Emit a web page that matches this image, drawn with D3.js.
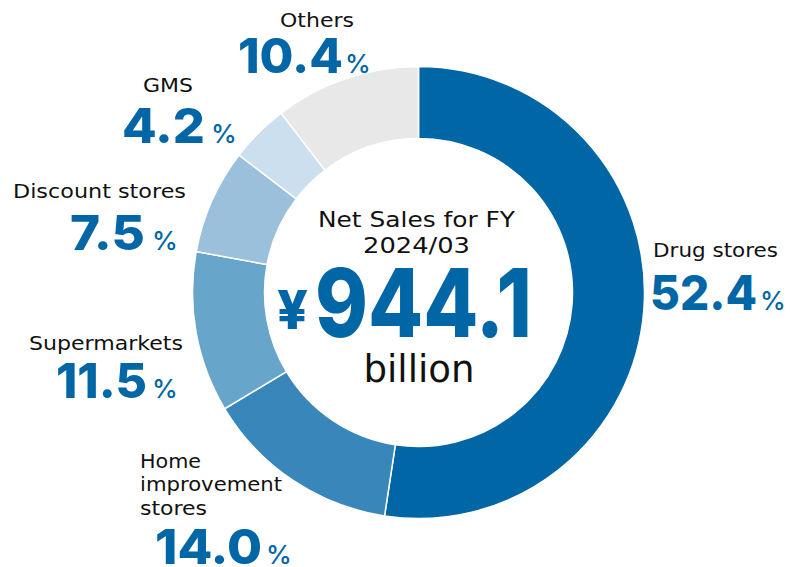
<!DOCTYPE html>
<html><head><meta charset="utf-8">
<script src="https://cdn.jsdelivr.net/npm/d3@7"></script>
<style>html,body{margin:0;padding:0;background:#fff;}svg{display:block;}</style>
</head><body>
<svg id="chart" width="800" height="567"></svg>
<script>
// ---- data ----
const categories = ["Drug stores", "Home improvement stores", "Supermarkets", "Discount stores", "GMS", "Others"];
const shares = [52.4, 14.0, 11.5, 7.5, 4.2, 10.4];
const colors = ["#0066a6", "#3987ba", "#67a5cb", "#9ac0db", "#cbdfee", "#e8e8e8"];
const centerTitle = ["Net Sales for FY", "2024/03"];
const centerValue = "944.1";
const centerUnit = "billion";

// ---- layout (not data) ----
const labelLayout = [
  {lines:["Drug stores"], anchor:"middle", nx:715.5, ny:257, nw:[125], vx:650, vw:107, vy:310, px:760},
  {lines:["Home","improvement","stores"], anchor:"start", nx:140, ny:468, nw:[61,142,67], vx:155, vw:107, vy:564, px:266},
  {lines:["Supermarkets"], anchor:"middle", nx:106, ny:350, nw:[154], vx:56, vw:91, vy:398, px:152},
  {lines:["Discount stores"], anchor:"middle", nx:99.5, ny:198, nw:[173], vx:70, vw:75, vy:250, px:152},
  {lines:["GMS"], anchor:"middle", nx:168, ny:92, nw:[50], vx:122, vw:83, vy:143, px:211},
  {lines:["Others"], anchor:"middle", nx:317, ny:27, nw:[74], vx:238, vw:105, vy:73, px:345}
];

const svg = d3.select("#chart");
const cx = 418.5, cy = 292.5, rOuter = 226, rInner = 154;
const blue = "#0066a6";
const numFont = "Inter, 'Noto Sans', sans-serif";
const txtFont = "'DejaVu Sans', 'Noto Sans', sans-serif";

const pie = d3.pie().sort(null).value(d => d)(shares);
const arc = d3.arc().innerRadius(rInner).outerRadius(rOuter);
const color = d3.scaleOrdinal().domain(categories).range(colors);

const g = svg.append("g").attr("transform", `translate(${cx},${cy})`);
g.selectAll("path").data(pie).join("path")
  .attr("d", arc)
  .attr("fill", (d,i) => color(categories[i]))
  .attr("stroke", "#fff").attr("stroke-width", 1.5);

// labels
const lg = svg.append("g");
labelLayout.forEach((L, i) => {
  L.lines.forEach((ln, j) => {
    lg.append("text").attr("x", L.nx).attr("y", L.ny + j*23.3)
      .attr("text-anchor", L.anchor)
      .attr("font-family", txtFont).attr("font-size", 19.5).attr("fill", "#111")
      .attr("textLength", L.nw[j]).attr("lengthAdjust", "spacingAndGlyphs")
      .text(ln);
  });
  lg.append("text").attr("x", L.vx).attr("y", L.vy)
    .attr("font-family", numFont).attr("font-weight", 800).attr("font-size", 48)
    .attr("fill", blue)
    .attr("textLength", L.vw).attr("lengthAdjust", "spacingAndGlyphs")
    .text(d3.format(".1f")(shares[i]));
  lg.append("text").attr("x", L.px).attr("y", L.vy)
    .attr("font-family", numFont).attr("font-weight", 500).attr("font-size", 26)
    .attr("fill", blue).text("%");
});

// center
const cg = svg.append("g");
const titleW = [197, 107];
centerTitle.forEach((t, j) => {
  cg.append("text").attr("x", 416.5).attr("y", 227 + j*26)
    .attr("text-anchor", "middle").attr("font-family", txtFont)
    .attr("font-size", 21.5).attr("fill", "#111")
    .attr("textLength", titleW[j]).attr("lengthAdjust", "spacingAndGlyphs").text(t);
});
cg.append("text").attr("x", 277).attr("y", 329)
  .attr("font-family", numFont).attr("font-weight", 800).attr("font-size", 54)
  .attr("fill", blue).attr("textLength", 31).attr("lengthAdjust", "spacingAndGlyphs").text("¥");
cg.append("text").attr("x", 315).attr("y", 337)
  .attr("font-family", numFont).attr("font-weight", 800).attr("font-size", 95)
  .attr("fill", blue).attr("textLength", 217).attr("lengthAdjust", "spacingAndGlyphs").text(centerValue);
cg.append("text").attr("x", 419).attr("y", 382)
  .attr("text-anchor", "middle").attr("font-family", txtFont)
  .attr("font-size", 37).attr("fill", "#111")
  .attr("textLength", 111).attr("lengthAdjust", "spacingAndGlyphs").text(centerUnit);
</script>
</body></html>
